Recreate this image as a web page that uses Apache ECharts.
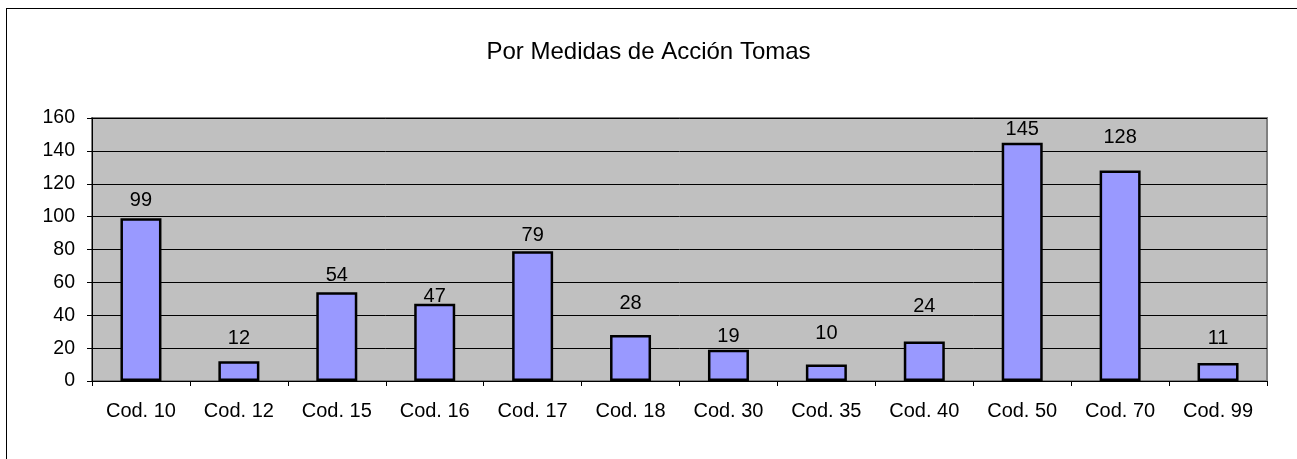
<!DOCTYPE html>
<html>
<head>
<meta charset="utf-8">
<style>
  html, body { margin: 0; padding: 0; background: #fff; }
  #frame { position: absolute; left: 6px; top: 8px; width: 1400px; height: 600px; border: 1px solid #000; box-sizing: border-box; }
  #chart { position: absolute; left: 0; top: 0; width: 1297px; height: 459px; }
</style>
</head>
<body>
<div id="frame"></div>
<div id="chart"></div>
<script src="https://cdn.jsdelivr.net/npm/echarts@6/dist/echarts.min.js"></script>
<script>
  // data
  var categories = ['Cod. 10', 'Cod. 12', 'Cod. 15', 'Cod. 16', 'Cod. 17', 'Cod. 18', 'Cod. 30', 'Cod. 35', 'Cod. 40', 'Cod. 50', 'Cod. 70', 'Cod. 99'];
  var values = [99, 12, 54, 47, 79, 28, 19, 10, 24, 145, 128, 11];
  // label gap above each bar (the original places them unevenly)
  var labelDistances = [8, 13, 7, -3, 6, 21, 3, 21, 25, 3, 23, 14];

  var myChart = echarts.init(document.getElementById('chart'), null, { renderer: 'canvas' });
  var font = 'Arial, "Liberation Sans", sans-serif';

  var option = {
    animation: false,
    title: {
      text: 'Por Medidas de Acción Tomas',
      left: 'center',
      top: 35,
      textStyle: { fontFamily: font, fontSize: 24, fontWeight: 'normal', color: '#000' }
    },
    grid: {
      left: 92, right: 30, top: 118, bottom: 78,
      show: true,
      backgroundColor: '#C0C0C0',
      borderColor: '#808080',
      borderWidth: 2
    },
    xAxis: {
      type: 'category',
      data: categories,
      axisLine: { lineStyle: { color: '#000', width: 1 } },
      axisTick: { show: true, length: 5, lineStyle: { color: '#000' } },
      axisLabel: { fontFamily: font, fontSize: 20, color: '#000', margin: 20 }
    },
    yAxis: {
      type: 'value',
      min: 0, max: 160, interval: 20,
      axisLine: { show: true, lineStyle: { color: '#000', width: 1 } },
      axisTick: { show: true, length: 5, lineStyle: { color: '#000' } },
      axisLabel: { fontFamily: font, fontSize: 19.5, color: '#000', margin: 17 },
      splitLine: { show: true, lineStyle: { color: '#000', width: 1 } }
    },
    series: [{
      type: 'bar',
      data: values.map(function (v, i) {
        return { value: v, label: { distance: labelDistances[i] } };
      }),
      barWidth: 41,
      itemStyle: { color: '#9999FF', borderColor: '#000', borderWidth: 2.5 },
      label: {
        show: true, position: 'top',
        fontFamily: font, fontSize: 20, color: '#000'
      }
    }]
  };
  myChart.setOption(option);
</script>
</body>
</html>
